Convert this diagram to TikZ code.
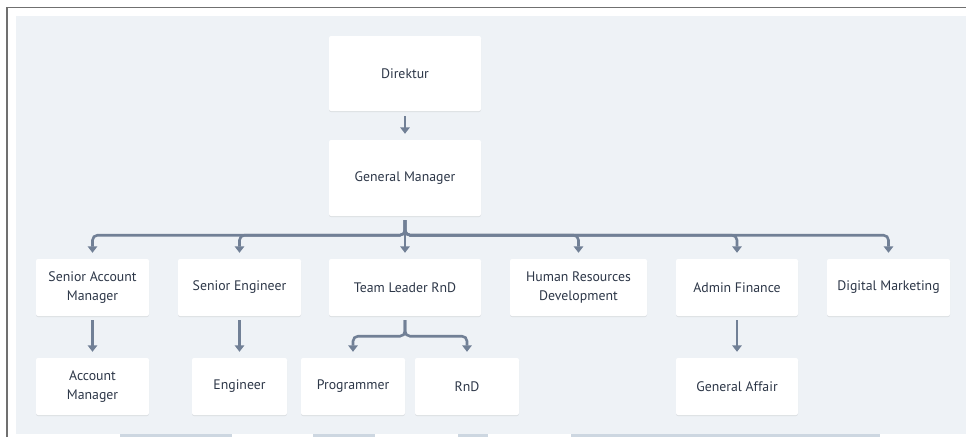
\documentclass[tikz,border=0pt]{standalone}
\usepackage{fontspec}
\setmainfont{PT Sans}
\usetikzlibrary{arrows.meta,shadows}
\definecolor{bgc}{HTML}{EEF2F6}
\definecolor{linec}{HTML}{718096}
\definecolor{txtc}{HTML}{2D3748}
\definecolor{stripc}{HTML}{CDD7E1}
\definecolor{framec}{HTML}{707070}
\tikzset{
  box/.style={fill=white, rounded corners=2pt, align=center, text=txtc,
    font=\fontsize{13.8}{19}\selectfont, inner sep=0pt,
    drop shadow={shadow xshift=0pt, shadow yshift=-1pt, opacity=0.08, fill=black}},
  link/.style={draw=linec, line width=2.6pt, rounded corners=5pt,
    -{Triangle[width=9.5pt,length=6.5pt]}},
}
\begin{document}
\begin{tikzpicture}[x=1pt,y=-1pt]
\useasboundingbox (0,0) rectangle (966,437);
\fill[white] (0,0) rectangle (966,437);
\fill[bgc] (16,16) rectangle (966,434);
\draw[framec, line width=1.5pt] (7,437) -- (7,7.5) -- (966,7.5);
\fill[stripc] (120,434) rectangle (232,437);
\fill[stripc] (313,434) rectangle (375,437);
\fill[stripc] (458,434) rectangle (488,437);
\fill[stripc] (571,434) rectangle (880,437);
% nodes
\node[box, minimum width=152pt, minimum height=75pt] (dir) at (405,73.5) {Direktur};
\node[box, minimum width=152pt, minimum height=76pt] (gm) at (405,178) {General Manager};
\node[box, minimum width=113pt, minimum height=57pt] (sam) at (92.5,287.5) {Senior Account\\Manager};
\node[box, minimum width=123pt, minimum height=57pt] (se) at (239.5,287.5) {Senior Engineer};
\node[box, minimum width=152pt, minimum height=57pt] (tl) at (405,287.5) {Team Leader RnD};
\node[box, minimum width=137pt, minimum height=57pt] (hr) at (578.5,287.5) {Human Resources\\Development};
\node[box, minimum width=122pt, minimum height=57pt] (af) at (737,287.5) {Admin Finance};
\node[box, minimum width=123pt, minimum height=57pt] (dm) at (888.5,287.5) {Digital Marketing};
\node[box, minimum width=113pt, minimum height=57pt] (am) at (92.5,386.5) {Account\\Manager};
\node[box, minimum width=95pt, minimum height=57pt] (eng) at (239.5,386.5) {Engineer};
\node[box, minimum width=104pt, minimum height=57pt] (prog) at (353,386.5) {Programmer};
\node[box, minimum width=104pt, minimum height=57pt] (rnd) at (467,386.5) {RnD};
\node[box, minimum width=122pt, minimum height=57pt] (ga) at (737,386.5) {General Affair};
% connectors
\draw[link] ([yshift=-5pt]dir.south) -- ([yshift=6pt]gm.north);
\foreach \c in {sam,se,tl,hr,af,dm}{
  \draw[link] ([yshift=-4pt]gm.south) -- ++(0pt,-15pt) -| ([yshift=6pt]\c.north);
}
\draw[link] ([yshift=-4pt]sam.south) -- ([yshift=6pt]am.north);
\draw[link] ([yshift=-4pt]se.south) -- ([yshift=6pt]eng.north);
\draw[link] ([yshift=-4pt]af.south) -- ([yshift=6pt]ga.north);
\foreach \c in {prog,rnd}{
  \draw[link] ([yshift=-4pt]tl.south) -- ++(0pt,-16pt) -| ([yshift=6pt]\c.north);
}
\end{tikzpicture}
\end{document}
